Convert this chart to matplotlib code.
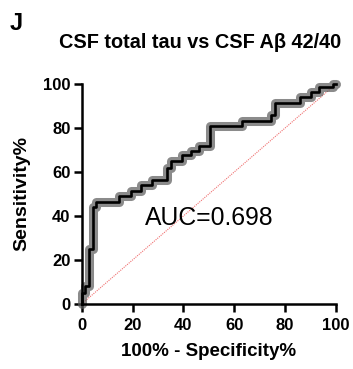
import matplotlib
matplotlib.use("Agg")
import matplotlib.pyplot as plt

plt.rcParams["font.family"] = ["Liberation Sans", "DejaVu Sans"]

# ROC staircase corners (100% - specificity, sensitivity)
fpr = [0, 0, 1.5, 1.5, 3, 3, 4.5, 4.5, 5.5, 5.5, 14.5, 14.5, 19.5, 19.5,
       23.5, 23.5, 27.5, 27.5, 33.5, 33.5, 35, 35, 39.5, 39.5, 43, 43,
       46, 46, 50.5, 50.5, 63, 63, 74.5, 74.5, 76, 76, 86, 86, 90, 90,
       93.5, 93.5, 99, 99, 100]
tpr = [0, 5, 5, 8, 8, 25, 25, 44, 44, 46.5, 46.5, 49, 49, 51.5,
       51.5, 54, 54, 56.5, 56.5, 62, 62, 65, 65, 67.5, 67.5, 69.5,
       69.5, 72, 72, 81, 81, 83, 83, 86, 86, 91.5, 91.5, 94, 94, 96.5,
       96.5, 98.5, 98.5, 100, 100]
auc_label = "AUC=0.698"
ticks = [0, 20, 40, 60, 80, 100]

fig = plt.figure(figsize=(3.53, 3.69), dpi=100)
ax = fig.add_axes([0.2314, 0.1762, 0.7204, 0.5962])

# chance line
ax.plot([0, 100], [0, 100], color="#f07070", lw=0.8, ls=(0, (1, 1)), zorder=1)
# grey band of points, then black curve on top
ax.plot(fpr, tpr, color="#5a5a5a", alpha=0.7, lw=6.5, solid_joinstyle="round",
        solid_capstyle="round", clip_on=False, zorder=2)
ax.plot(fpr, tpr, color="black", lw=1.9, clip_on=False, zorder=3)

ax.text(24.9, 39, auc_label, fontsize=17.8, ha="left", va="center")

ax.set_xlim(0, 100)
ax.set_ylim(0, 100)
ax.set_xticks(ticks)
ax.set_yticks(ticks)
ax.tick_params(direction="out", length=6, width=1.8, labelsize=12)
ax.tick_params(axis="x", pad=4)
ax.tick_params(axis="y", pad=2)
for lab in ax.get_xticklabels() + ax.get_yticklabels():
    lab.set_fontweight("bold")

for side in ["top", "right"]:
    ax.spines[side].set_visible(False)
for side in ["left", "bottom"]:
    ax.spines[side].set_linewidth(1.8)

ax.set_xlabel("100% - Specificity%", fontsize=13.5, fontweight="bold", labelpad=7)
ax.set_ylabel("Sensitivity%", fontsize=14, fontweight="bold", labelpad=9)
fig.text(200 / 353, 1 - 43 / 369, "CSF total tau vs CSF Aβ 42/40",
         fontsize=14.3, fontweight="bold", ha="center", va="center")

fig.text(0.028, 0.968, "J", fontsize=17, fontweight="bold", va="top", ha="left")

fig.savefig("out.png", dpi=100)
